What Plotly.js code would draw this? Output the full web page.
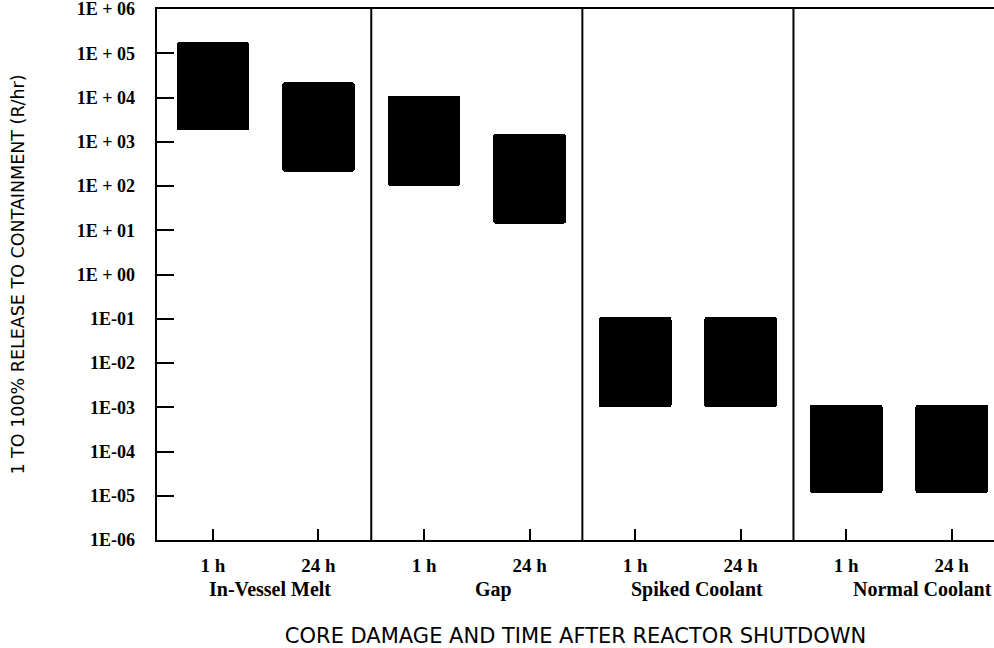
<!DOCTYPE html>
<html>
<head>
<meta charset="utf-8">
<script src="https://cdn.plot.ly/plotly-3.0.1.min.js"></script>
<style>
  html, body { margin: 0; padding: 0; background: #fff; overflow: hidden; }
  #chart { width: 994px; height: 648px; }
</style>
</head>
<body>
<div id="chart"></div>
<script>
// ---- data ----
const groups = ['In-Vessel Melt', 'Gap', 'Spiked Coolant', 'Normal Coolant'];
const times = ['1 h', '24 h'];
// lower and upper bounds of the release range (R/hr), one per bar, in group/time order
const lowValues  = [1.8e3, 2.1e2, 1.0e2, 1.4e1, 1.0e-3, 1.0e-3, 1.15e-5, 1.15e-5];
const highValues = [1.8e5, 2.2e4, 1.1e4, 1.5e3, 1.1e-1, 1.1e-1, 1.15e-3, 1.15e-3];
const yTickVals = [1e-6, 1e-5, 1e-4, 1e-3, 1e-2, 1e-1, 1e0, 1e1, 1e2, 1e3, 1e4, 1e5, 1e6];
const yTickText = ['1E-06', '1E-05', '1E-04', '1E-03', '1E-02', '1E-01',
                   '1E + 00', '1E + 01', '1E + 02', '1E + 03', '1E + 04', '1E + 05', '1E + 06'];
// horizontal position of each group label, in bar-index units
const groupLabelX = [0.54, 2.66, 4.59, 6.72];

// ---- derived ----
const xIdx = [];
const xText = [];
groups.forEach((g, gi) => times.forEach((t, ti) => {
  xIdx.push(gi * times.length + ti);
  xText.push(t);
}));
const spans = highValues.map((h, i) => h - lowValues[i]);

const serif = 'Liberation Serif, Times New Roman, serif';
const sans = 'DejaVu Sans, Open Sans, sans-serif';

const trace = {
  type: 'bar',
  x: xIdx,
  y: spans,
  base: lowValues,
  width: 0.69,
  marker: { color: '#000', line: { width: 0 }, cornerradius: 3 },
  hoverinfo: 'skip'
};

const shapes = [];
for (let g = 1; g < groups.length; g++) {
  const xs = g * times.length - 0.5;
  shapes.push({
    type: 'line', xref: 'x', yref: 'paper',
    x0: xs, x1: xs, y0: 0, y1: 1,
    line: { color: '#000', width: 2 }
  });
}

const annotations = groups.map((g, i) => ({
  text: g, xref: 'x', yref: 'paper',
  x: groupLabelX[i], y: 0, yshift: -49,
  xanchor: 'center', yanchor: 'middle', showarrow: false,
  font: { family: serif, size: 20, color: '#000', weight: 'bold' }
}));

const layout = {
  width: 994, height: 648,
  margin: { l: 157, r: 0, t: 9, b: 108 },
  paper_bgcolor: '#fff', plot_bgcolor: '#fff',
  showlegend: false,
  bargap: 0,
  xaxis: {
    range: [-0.53, 7.4],
    tickmode: 'array', tickvals: xIdx, ticktext: xText,
    ticks: 'inside', ticklen: 11, tickwidth: 2, tickcolor: '#000',
    ticklabelstandoff: 7,
    showgrid: false, zeroline: false,
    showline: true, linecolor: '#000', linewidth: 2, mirror: true,
    tickfont: { family: serif, size: 19, color: '#000', weight: 'bold' },
    title: {
      text: 'CORE DAMAGE AND TIME AFTER REACTOR SHUTDOWN',
      font: { family: sans, size: 21, color: '#000' },
      standoff: 55
    }
  },
  yaxis: {
    type: 'log', range: [-6, 6.0008],
    tickmode: 'array', tickvals: yTickVals, ticktext: yTickText,
    ticks: 'inside', ticklen: 17, tickwidth: 2, tickcolor: '#000',
    ticklabelstandoff: 16,
    ticklabeloverflow: 'allow',
    showgrid: false, zeroline: false,
    showline: true, linecolor: '#000', linewidth: 2.5,
    tickfont: { family: serif, size: 18, color: '#000', weight: 'bold' },
    title: {
      text: '1 TO 100% RELEASE TO CONTAINMENT (R/hr)',
      font: { family: sans, size: 17.5, color: '#000' },
      standoff: 48
    }
  },
  shapes: shapes,
  annotations: annotations
};

Plotly.newPlot('chart', [trace], layout, { displayModeBar: false, staticPlot: true });
</script>
</body>
</html>
